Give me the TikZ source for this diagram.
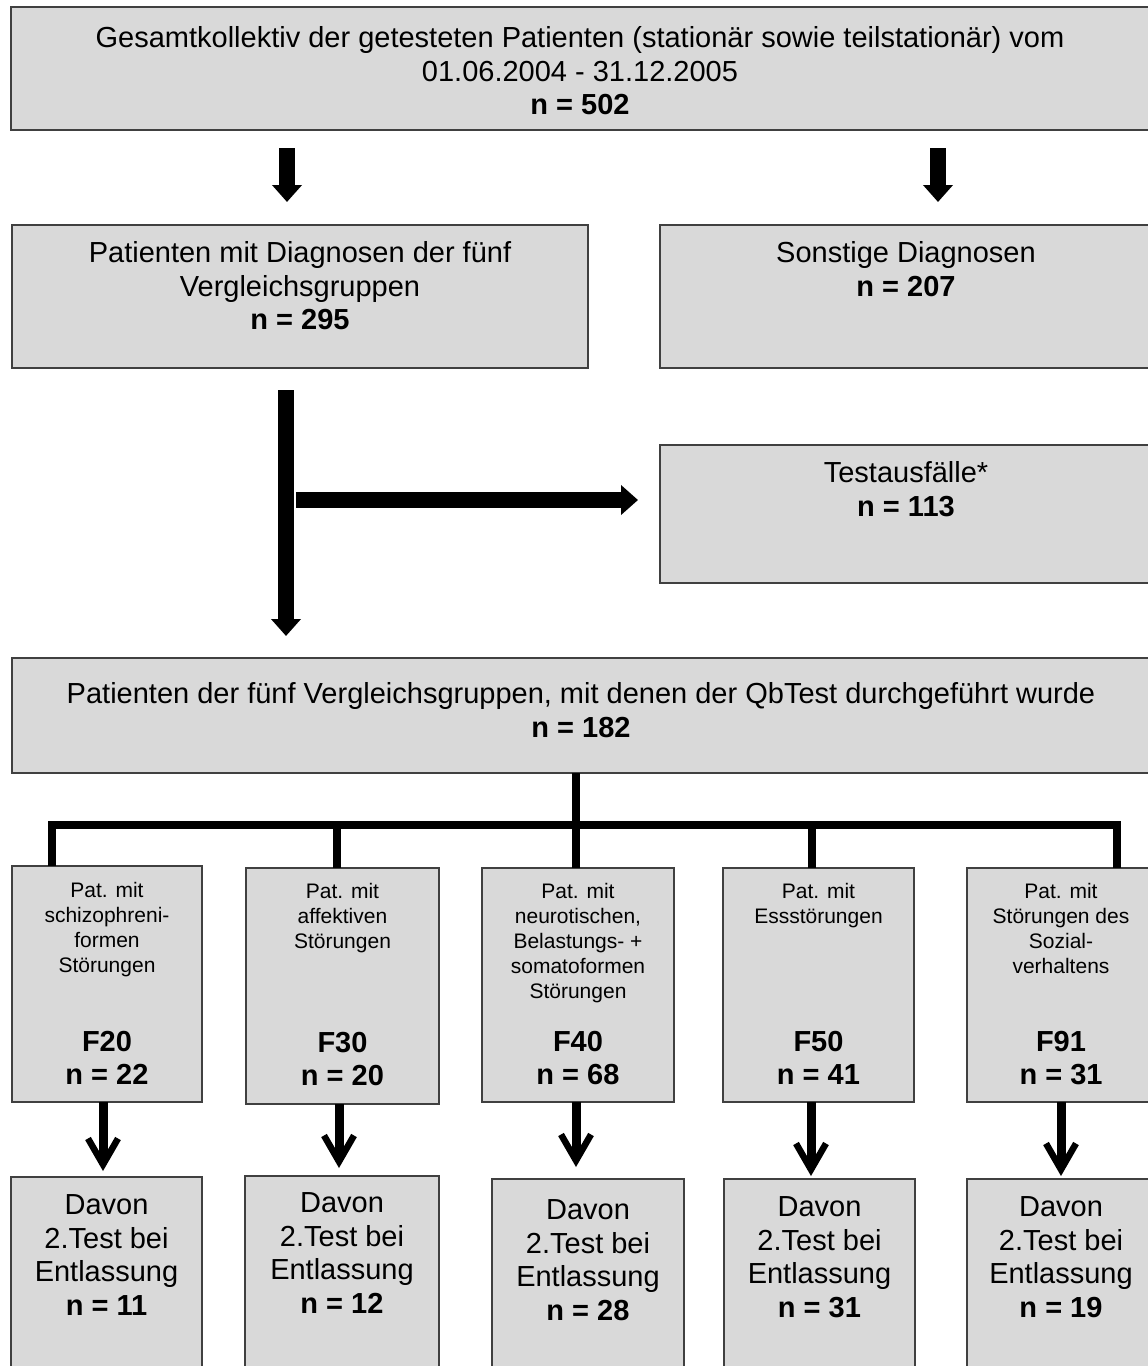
\documentclass[tikz,border=0pt]{standalone}
\usepackage{fontspec}
\setmainfont{Liberation Sans}
\usetikzlibrary{arrows.meta,calc}
\definecolor{boxgray}{HTML}{D9D9D9}
\definecolor{edgegray}{HTML}{404040}
\begin{document}
\begin{tikzpicture}[x=1pt,y=-1pt,
 box/.style={draw=edgegray, line width=1.4pt, fill=boxgray, inner sep=0pt, outer sep=0pt},
 bigtxt/.style={anchor=north, inner sep=0pt, align=center, font=\fontsize{29}{33.5}\selectfont},
 smalltxt/.style={anchor=north, inner sep=0pt, align=center, font=\fontsize{21}{25}\selectfont},
 boldtxt/.style={anchor=north, inner sep=0pt, align=center, font=\fontsize{29}{33}\selectfont\bfseries},
 blockarrow/.style={line width=16.5pt, -{Triangle[length=17pt,width=29pt]}},
 tree/.style={line width=8pt},
 smallarrow/.style={line width=9pt, -{Straight Barb[line width=6.5pt,length=26pt,width=30pt]}}
]
\useasboundingbox (0,0) rectangle (1148,1366);
\clip (0,0) rectangle (1148,1366);

% boxes
\node[box, minimum width=1138pt, minimum height=123pt] (T) at (580,68.5) {};
\node[box, minimum width=576pt, minimum height=143pt] (P) at (300,296.5) {};
\node[box, minimum width=492pt, minimum height=143pt] (S) at (906,296.5) {};
\node[box, minimum width=492pt, minimum height=138pt] (A) at (906,514) {};
\node[box, minimum width=1138pt, minimum height=115pt] (V) at (581,715.5) {};

\node[box, minimum width=190pt, minimum height=236pt] (G1) at (107,984) {};
\node[box, minimum width=193pt, minimum height=236pt] (G2) at (342.5,986) {};
\node[box, minimum width=192pt, minimum height=234pt] (G3) at (578,985) {};
\node[box, minimum width=191pt, minimum height=234pt] (G4) at (818.5,985) {};
\node[box, minimum width=188pt, minimum height=234pt] (G5) at (1061,985) {};

\node[box, minimum width=191pt, minimum height=195pt] (D1) at (106.5,1274.5) {};
\node[box, minimum width=194pt, minimum height=196pt] (D2) at (342,1274) {};
\node[box, minimum width=192pt, minimum height=193pt] (D3) at (588,1275.5) {};
\node[box, minimum width=191pt, minimum height=193pt] (D4) at (819.5,1275.5) {};
\node[box, minimum width=188pt, minimum height=193pt] (D5) at (1061,1275.5) {};

% texts
\node[bigtxt] (tT) at ([yshift=-19.5pt]T.north) {Gesamtkollektiv der getesteten Patienten (stationär sowie teilstationär) vom\\01.06.2004 - 31.12.2005\\\textbf{n = 502}};
\node[bigtxt] (tP) at ([yshift=-16.5pt]P.north) {Patienten mit Diagnosen der fünf\\Vergleichsgruppen\\\textbf{n = 295}};
\node[bigtxt] (tS) at ([yshift=-16.5pt]S.north) {Sonstige Diagnosen\\\textbf{n = 207}};
\node[bigtxt] (tA) at ([yshift=-16.5pt]A.north) {Testausfälle*\\\textbf{n = 113}};
\node[bigtxt] (tV) at ([yshift=-24.5pt]V.north) {Patienten der fünf Vergleichsgruppen, mit denen der QbTest durchgeführt wurde\\\textbf{n = 182}};

\node[smalltxt] (s1) at ([yshift=-16pt]G1.north) {Pat. mit\\schizophreni-\\formen\\Störungen};
\node[smalltxt] (s2) at ([yshift=-15pt]G2.north) {Pat. mit\\affektiven\\Störungen};
\node[smalltxt] (s3) at ([yshift=-15pt]G3.north) {Pat. mit\\neurotischen,\\Belastungs- +\\somatoformen\\Störungen};
\node[smalltxt] (s4) at ([yshift=-15pt]G4.north) {Pat. mit\\Essstörungen};
\node[smalltxt] (s5) at ([yshift=-15pt]G5.north) {Pat. mit\\Störungen des\\Sozial-\\verhaltens};

\node[boldtxt] (b1) at ([yshift=70.5pt]G1.south) {F20\\n = 22};
\node[boldtxt] (b2) at ([yshift=71.5pt]G2.south) {F30\\n = 20};
\node[boldtxt] (b3) at ([yshift=70.5pt]G3.south) {F40\\n = 68};
\node[boldtxt] (b4) at ([yshift=70.5pt]G4.south) {F50\\n = 41};
\node[boldtxt] (b5) at ([yshift=70.5pt]G5.south) {F91\\n = 31};

\node[bigtxt] (d1) at ([yshift=-17.5pt]D1.north) {Davon\\2.Test bei\\Entlassung\\\textbf{n = 11}};
\node[bigtxt] (d2) at ([yshift=-16.5pt]D2.north) {Davon\\2.Test bei\\Entlassung\\\textbf{n = 12}};
\node[bigtxt] (d3) at ([yshift=-20.5pt]D3.north) {Davon\\2.Test bei\\Entlassung\\\textbf{n = 28}};
\node[bigtxt] (d4) at ([yshift=-17.5pt]D4.north) {Davon\\2.Test bei\\Entlassung\\\textbf{n = 31}};
\node[bigtxt] (d5) at ([yshift=-17.5pt]D5.north) {Davon\\2.Test bei\\Entlassung\\\textbf{n = 19}};

% x positions of connectors
\coordinate (x1) at (287,0);
\coordinate (x2) at (938,0);
\coordinate (xv) at (286,0);
\coordinate (j) at (286,500);
\coordinate (bar) at (575.5,825);
\coordinate (c1) at (52,825);
\coordinate (c2) at (337,825);
\coordinate (c4) at (812,825);
\coordinate (c5) at (1117,825);
\coordinate (a1) at (103,0);
\coordinate (a2) at (339,0);
\coordinate (a3) at (576,0);
\coordinate (a4) at (811,0);
\coordinate (a5) at (1061,0);

% block arrows
\draw[blockarrow] ([yshift=-18pt]T.south -| x1) -- ([yshift=23pt]P.north -| x1);
\draw[blockarrow] ([yshift=-18pt]T.south -| x2) -- ([yshift=23pt]S.north -| x2);
\draw[blockarrow] ([yshift=-22pt]P.south -| xv) -- ([yshift=22pt]V.north -| xv);
\draw[blockarrow] ([xshift=10pt]j) -- ([xshift=-22pt]A.west |- j);

% tree
\draw[tree] (V.south -| bar) -- (bar);
\draw[tree] (G1.north -| c1) |- (bar) -| (G5.north -| c5);
\draw[tree] (c2) -- (G2.north -| c2);
\draw[tree] (bar) -- (G3.north -| bar);
\draw[tree] (c4) -- (G4.north -| c4);

% small arrows
\draw[smallarrow] (G1.south -| a1) -- ([yshift=6pt]D1.north -| a1);
\draw[smallarrow] (G2.south -| a2) -- ([yshift=8pt]D2.north -| a2);
\draw[smallarrow] (G3.south -| a3) -- ([yshift=12pt]D3.north -| a3);
\draw[smallarrow] (G4.south -| a4) -- ([yshift=3pt]D4.north -| a4);
\draw[smallarrow] (G5.south -| a5) -- ([yshift=3pt]D5.north -| a5);
\end{tikzpicture}
\end{document}
